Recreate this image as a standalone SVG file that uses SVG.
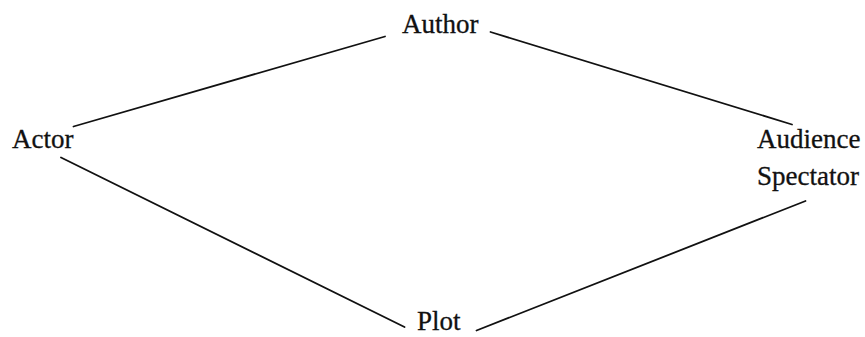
<svg xmlns="http://www.w3.org/2000/svg" width="865" height="337" viewBox="0 0 865 337">
<style>
.lbl{font-family:"Liberation Serif","Times New Roman",serif;font-size:27px;fill:#111;stroke:#111;stroke-width:0.3}
.edge{stroke:#111;stroke-width:1.8;fill:none;stroke-linecap:round}
</style>
<rect width="865" height="337" fill="#fff"/>
<g id="connectors">
<line class="edge" x1="385" y1="36.5" x2="73.5" y2="126.5"/>
<line class="edge" x1="490.5" y1="32" x2="792" y2="124.5"/>
<line class="edge" x1="61" y1="157.5" x2="404.5" y2="327"/>
<line class="edge" x1="476.5" y1="330.5" x2="805.5" y2="201"/>
</g>
<g id="author"><text class="lbl" x="402" y="33">Author</text></g>
<g id="actor"><text class="lbl" x="12" y="147.5">Actor</text></g>
<g id="audience"><text class="lbl" x="757" y="147.5">Audience</text><text class="lbl" x="757" y="185">Spectator</text></g>
<g id="plot"><text class="lbl" x="417" y="330">Plot</text></g>
</svg>
